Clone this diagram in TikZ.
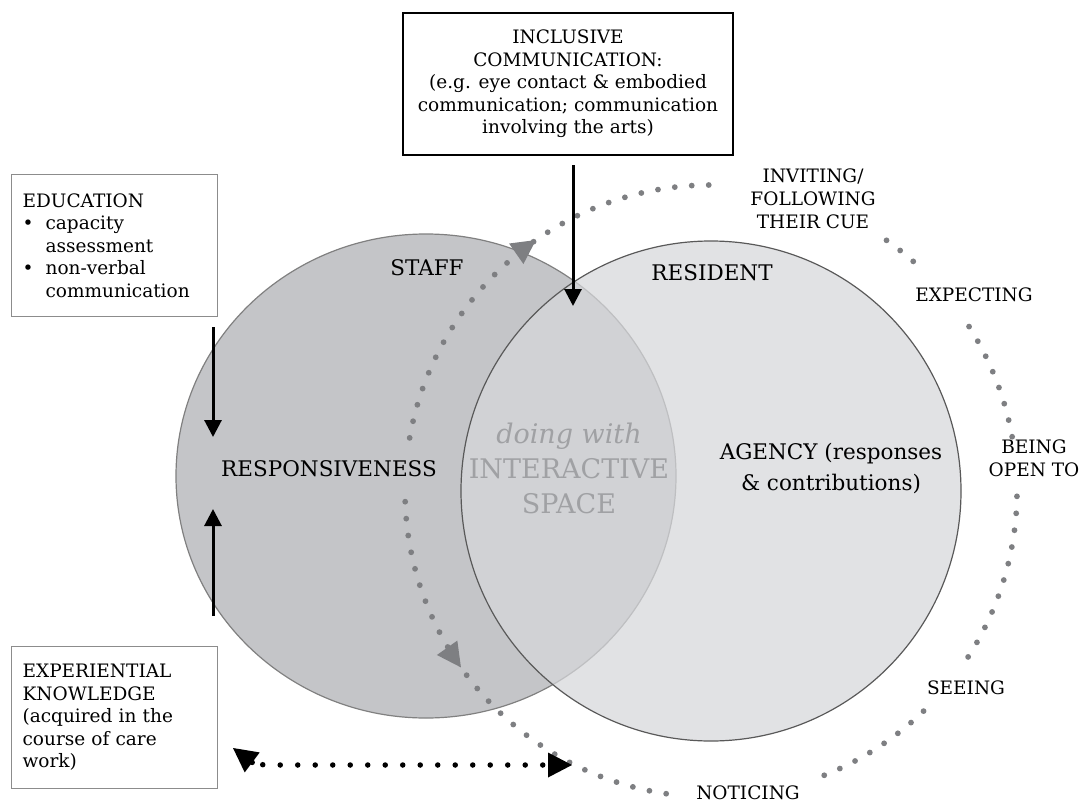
\documentclass[tikz,border=0pt]{standalone}
\usepackage{fontspec}
\setmainfont{DejaVu Serif}
\usetikzlibrary{arrows.meta,decorations.markings,positioning}

\definecolor{staffgray}{HTML}{C4C5C8}
\definecolor{residentgray}{HTML}{D6D7DA}
\definecolor{loopgray}{HTML}{7E7F82}
\definecolor{spacegray}{HTML}{A0A1A4}

\newcommand{\boxfont}{\fontsize{18.5}{22.5}\selectfont}
\newcommand{\labelfont}{\fontsize{21.5}{31}\selectfont}
\newcommand{\stepfont}{\fontsize{18.5}{23}\selectfont}
\newcommand{\spacefont}{\fontsize{27}{35}\selectfont}

\begin{document}
\begin{tikzpicture}[x=1pt,y=-1pt]
			\tikzstyle{every node}+=[inner sep=0pt]
			\tikzstyle{topbox}=[draw=black,line width=1.4pt,minimum width=330pt,minimum height=142pt,align=center,font=\boxfont]
			\tikzstyle{sidebox}=[draw=black!45,line width=1.2pt,text width=184pt,inner xsep=11pt,minimum height=142pt,align=left,font=\boxfont,anchor=north west]
			\tikzstyle{steplabel}=[font=\stepfont,align=center]
			\tikzstyle{blackarrow}=[line width=3pt,-{Triangle[length=17pt,width=17pt]}]
			\tikzstyle{dotloop}=[loopgray,line width=5.8pt,line cap=round,dash pattern=on 0pt off 17pt]
			\tikzstyle{blackdots}=[black,line width=5.5pt,line cap=round,dash pattern=on 0pt off 17.5pt]
			\tikzstyle{loophead}=[postaction={decorate},decoration={markings,mark=at position #1 with {\arrow{Triangle[length=24pt,width=25pt,line width=0pt]}}}]
			\useasboundingbox (0,0) rectangle (1079,803);
			\filldraw [fill=staffgray,draw=black!50,line width=1.2pt] (426,476) ellipse [x radius=250,y radius=242];
			\filldraw [fill=residentgray,fill opacity=0.73,draw=black!65,line width=1.2pt] (711,491) circle (250);
			\coordinate (hub) at (711,491);
			\draw [dotloop,loophead=0.55] (hub) ++(190:306) arc [start angle=190,end angle=272,radius=306];
			\draw [dotloop,loophead=0.415] (hub) ++(178:306) arc [start angle=178,end angle=98,radius=306];
			\foreach \a/\b in {305/311.5,327.5/350.5,361/393,406/429}
				\draw [dotloop] (hub) ++(\a:306) arc [start angle=\a,end angle=\b,radius=306];
			\node [font=\labelfont] (staff) at (427,268) {STAFF};
			\node [font=\labelfont] (resident) at (712,273) {RESIDENT};
			\node [font=\labelfont] (responsiveness) at (329,469) {RESPONSIVENESS};
			\node [font=\labelfont,align=center] (agency) at (831,469) {AGENCY (responses\\\& contributions)};
			\node [font=\spacefont,text=spacegray,align=center] (space) at (569,468) {\textit{doing with}\\INTERACTIVE\\SPACE};
			\node [topbox] (inclusive) at (568,84) {INCLUSIVE\\COMMUNICATION:\\(e.g. eye contact \& embodied\\communication; communication\\involving the arts)};
			\node [sidebox] (education) at (11,174) {EDUCATION\\\makebox[23pt][l]{\textbullet}capacity\\\hspace*{23pt}assessment\\\makebox[23pt][l]{\textbullet}non-verbal\\\hspace*{23pt}communication};
			\node [sidebox] (experience) at (11,646) {EXPERIENTIAL\\KNOWLEDGE\\(acquired in the\\course of care\\work)};
			\node [steplabel] (inviting) at (813,199) {INVITING/\\FOLLOWING\\THEIR CUE};
			\node [steplabel] (expecting) at (974,295) {EXPECTING};
			\node [steplabel] (openness) at (1034,458) {BEING\\OPEN TO};
			\node [steplabel] (seeing) at (966,688) {SEEING};
			\node [steplabel] (noticing) at (748,793) {NOTICING};
			\coordinate (eduFrom) at (213,327);
			\coordinate (eduTo) at (213,437);
			\coordinate (expFrom) at (213,616);
			\coordinate (expTo) at (213,509);
			\coordinate (inclFrom) at (573,165);
			\coordinate (inclTo) at (573,306);
			\coordinate (knowTip) at (233,748);
			\coordinate (noticeTip) at (572,765);
			\draw [blackarrow] (eduFrom) -- (eduTo);
			\draw [blackarrow] (expFrom) -- (expTo);
			\draw [blackarrow] (inclFrom) -- (inclTo);
			\draw [blackdots,{Triangle[length=24pt,width=25pt,line width=0pt]}-{Triangle[length=24pt,width=25pt,line width=0pt]}] (knowTip) .. controls (245,757) and (252,765) .. (268,765) -- (noticeTip);
\end{tikzpicture}
\end{document}
